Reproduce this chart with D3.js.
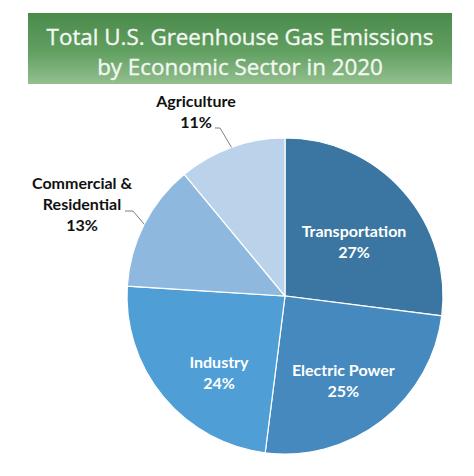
<!DOCTYPE html>
<html>
<head>
<meta charset="utf-8">
<script src="https://cdn.jsdelivr.net/npm/d3@7"></script>
<style>
  body { margin: 0; background: #fff; }
  svg { display: block; }
</style>
</head>
<body>
<script>
//chart data
var sectors = ["Transportation", "Electric Power", "Industry", "Commercial & Residential", "Agriculture"];
var shares = [27, 25, 24, 13, 11];
var colors = ["#3a76a1", "#4589be", "#4f9ed6", "#8fb8de", "#bbd3ea"];
var titleLines = ["Total U.S. Greenhouse Gas Emissions", "by Economic Sector in 2020"];

//frame
var width = 474, height = 476;
var cx = 285, cy = 296, radius = 158;

var svg = d3.select("body").append("svg")
    .attr("width", width)
    .attr("height", height);

//green title banner with vertical gradient
var defs = svg.append("defs");
var grad = defs.append("linearGradient")
    .attr("id", "titleGrad")
    .attr("x1", 0).attr("y1", 0).attr("x2", 0).attr("y2", 1);
grad.append("stop").attr("offset", "0%").attr("stop-color", "#4a8a4b");
grad.append("stop").attr("offset", "55%").attr("stop-color", "#62a062");
grad.append("stop").attr("offset", "100%").attr("stop-color", "#93bf8f");

svg.append("rect")
    .attr("x", 28).attr("y", 13)
    .attr("width", 424).attr("height", 71)
    .attr("fill", "url(#titleGrad)");

var title = svg.append("g").attr("class", "title");
titleLines.forEach(function(line, i) {
    title.append("text")
        .attr("x", 240)
        .attr("y", 45 + i * 30)
        .attr("text-anchor", "middle")
        .attr("fill", "#f4f8f2")
        .attr("stroke", "#f4f8f2")
        .attr("stroke-width", 0.35)
        .style("font-family", "'Open Sans', sans-serif")
        .style("font-size", "20px")
        .text(line);
});
//fit first title line to width seen in the original
var first = title.select("text").node();
var fitSize = 20 * 387 / first.getComputedTextLength();
title.selectAll("text").style("font-size", fitSize + "px");

//pie
var pie = d3.pie().sort(null).value(function(d) { return d; });
var arcs = pie(shares);
var arc = d3.arc().innerRadius(0).outerRadius(radius);

var chart = svg.append("g")
    .attr("transform", "translate(" + cx + "," + cy + ")");

chart.selectAll(".slice")
    .data(arcs)
    .enter()
    .append("path")
    .attr("class", "slice")
    .attr("d", arc)
    .attr("fill", function(d, i) { return colors[i]; })
    .attr("stroke", "#fff")
    .attr("stroke-width", 1.2);

var labelFont = "Lato, 'Open Sans', sans-serif";
var labelSize = "16px";

//label layout: inside labels use a centroid ring plus nudges, outside ones use leader lines
var labelArc = d3.arc().innerRadius(100).outerRadius(100);
var inside = [
    {i: 0, dx: -6, dy: 12},
    {i: 1, dx: -3, dy: 6},
    {i: 2, dx: 11, dy: 13}
];

inside.forEach(function(l) {
    var c = labelArc.centroid(arcs[l.i]);
    var t = chart.append("text")
        .attr("text-anchor", "middle")
        .attr("fill", "#fff")
        .style("font-family", labelFont)
        .style("font-weight", "bold")
        .style("font-size", labelSize);
    t.append("tspan").attr("x", c[0] + l.dx).attr("y", c[1] + l.dy - 5).text(sectors[l.i]);
    t.append("tspan").attr("x", c[0] + l.dx).attr("y", c[1] + l.dy + 16).text(shares[l.i] + "%");
});

//outside labels with leader lines from the slice mid-angle on the rim
var outside = [
    {i: 3, lines: ["Commercial &", "Residential"], elbow: [-152, -85], end: [-160, -85], tx: -203, ty: -107},
    {i: 4, lines: ["Agriculture"], elbow: [-65, -168], end: [-70, -168], tx: -89, ty: -189}
];

outside.forEach(function(l) {
    var a = arcs[l.i];
    var mid = (a.startAngle + a.endAngle) / 2;
    var rim = [Math.sin(mid) * radius, -Math.cos(mid) * radius];
    chart.append("polyline")
        .attr("points", [rim, l.elbow, l.end].map(function(p) { return p.join(","); }).join(" "))
        .attr("fill", "none")
        .attr("stroke", "#7f7f7f")
        .attr("stroke-width", 1);

    var t = chart.append("text")
        .attr("text-anchor", "middle")
        .attr("fill", "#111")
        .style("font-family", labelFont)
        .style("font-weight", "bold")
        .style("font-size", labelSize);
    var rows = l.lines.concat([shares[l.i] + "%"]);
    rows.forEach(function(r, k) {
        t.append("tspan")
            .attr("x", l.tx)
            .attr("y", l.ty + k * 21)
            .text(r);
    });
});
</script>
</body>
</html>
